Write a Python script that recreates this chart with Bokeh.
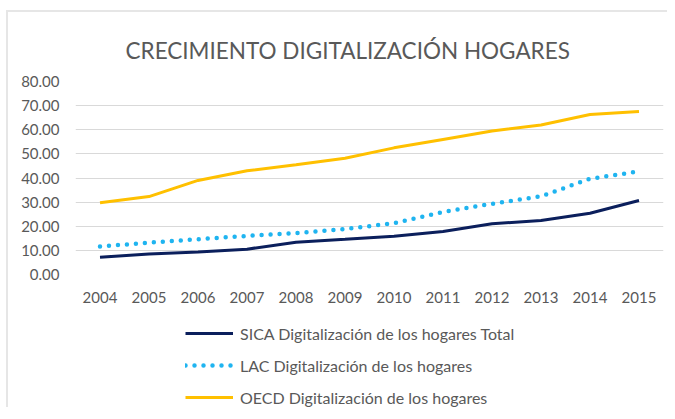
from bokeh.plotting import figure
from bokeh.layouts import column
from bokeh.models import Range1d, Legend, LegendItem, FixedTicker, NumeralTickFormatter
from bokeh.embed import file_html
from bokeh.resources import INLINE

years = [2004, 2005, 2006, 2007, 2008, 2009, 2010, 2011, 2012, 2013, 2014, 2015]
sica = [7.2, 8.5, 9.3, 10.5, 13.4, 14.6, 15.9, 17.8, 21.0, 22.4, 25.4, 30.7]
lac = [11.6, 13.2, 14.6, 16.0, 17.2, 18.8, 21.3, 25.9, 29.3, 32.4, 39.7, 42.7]
oecd = [29.7, 32.3, 39.0, 43.0, 45.5, 48.2, 52.5, 56.0, 59.5, 62.0, 66.3, 67.6]
labels = ["SICA Digitalización de los hogares Total",
          "LAC Digitalización de los hogares",
          "OECD Digitalización de los hogares"]
title = "CRECIMIENTO DIGITALIZACIÓN HOGARES"

FONT = "Lato"
GREY = "#595959"
STYLES = [dict(line_color="#0b1f5c", line_width=3),
          dict(line_color="#1fb4f0", line_width=4.5, line_dash="0 9", line_cap="round"),
          dict(line_color="#ffc000", line_width=3)]

p = figure(frame_width=588, frame_height=193, output_backend="svg", toolbar_location=None,
           x_range=Range1d(2003.5, 2015.5), y_range=Range1d(0, 80),
           min_border_left=67, min_border_right=4, min_border_top=69, min_border_bottom=0)
p.outline_line_color = None
p.title.text = title
p.title.text_font = FONT
p.title.text_font_size = "22.5px"
p.title.text_font_style = "normal"
p.title.text_color = GREY
p.title.align = "left"
p.title.offset = 50
p.title.standoff = 36

p.xaxis.ticker = FixedTicker(ticks=years)
p.yaxis.ticker = FixedTicker(ticks=[0, 10, 20, 30, 40, 50, 60, 70, 80])
p.yaxis.formatter = NumeralTickFormatter(format="0.00")
for ax in (p.xaxis[0], p.yaxis[0]):
    ax.axis_line_color = None
    ax.major_tick_line_color = None
    ax.minor_tick_line_color = None
    ax.major_label_text_font = FONT
    ax.major_label_text_font_size = "15px"
    ax.major_label_text_color = GREY
p.xaxis.major_label_standoff = 11
p.yaxis.major_label_standoff = 10
p.xgrid.grid_line_color = None
p.ygrid.grid_line_color = "#d9d9d9"
p.ygrid.grid_line_width = 1

for ys, st in zip([sica, lac, oecd], STYLES):
    p.line(years, ys, **st)

# legend panel below the chart (single off-range point per series, only the legend shows)
p2 = figure(width=659, height=102, output_backend="svg", toolbar_location=None,
            x_range=Range1d(0, 1), y_range=Range1d(0, 1),
            x_axis_type=None, y_axis_type=None,
            min_border_left=0, min_border_right=0, min_border_top=0, min_border_bottom=0)
p2.outline_line_color = None
p2.grid.visible = False
items = []
for lab, ys, st in zip(labels, [sica, lac, oecd], STYLES):
    r = p2.line(years[:1], ys[:1], **st)
    items.append(LegendItem(label=lab, renderers=[r]))
legend = Legend(items=items, location=(110, 0), orientation="vertical",
                glyph_width=48, glyph_height=20, label_height=20,
                label_standoff=7, spacing=12, padding=0, margin=0,
                border_line_color=None, background_fill_alpha=0,
                label_text_font=FONT, label_text_font_size="16px", label_text_color=GREY)
p2.add_layout(legend, "center")

layout = column(p, p2)
layout.styles = {"border-left": "2px solid #e6e6e6", "border-top": "2px solid #e6e6e6",
                 "margin-left": "6px", "margin-top": "10px"}

open("out.html", "w").write(file_html(layout, INLINE))
